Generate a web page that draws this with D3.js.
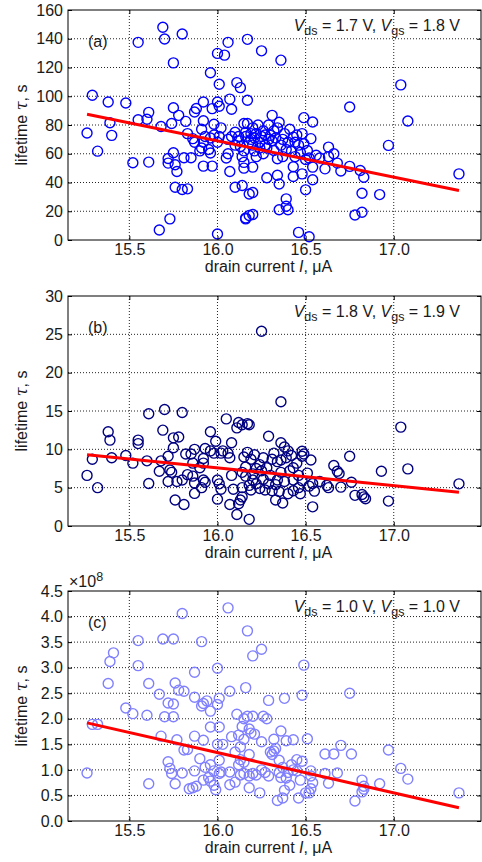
<!DOCTYPE html>
<html>
<head>
<meta charset="utf-8">
<script src="https://cdn.jsdelivr.net/npm/d3@7"></script>
<style>
  body { margin: 0; background: #fff; }
  text { font-family: "Liberation Sans", Arial, Helvetica, sans-serif; fill: #1a1a1a; }
</style>
</head>
<body>
<div id="chart"></div>
<script>
// x ticks shared by all three panels
var xTicks = [15.5, 16.0, 16.5, 17.0];

// panel (a): Vds = 1.7 V, Vgs = 1.8 V
var pointsA = [
  [15.26,74.4],[15.29,100.7],[15.32,61.8],[15.38,96],[15.39,81.6],[15.40,72.8],[15.48,95.3],[15.55,137.5],
  [15.55,83.7],[15.60,84],[15.61,88.8],[15.52,53.7],[15.61,54.2],[15.68,79],[15.69,148],[15.70,139.8],
  [15.72,56.7],[15.72,53.5],[15.73,14.7],[15.67,7],[15.74,81],[15.75,123.2],[15.75,92],[15.75,60.7],
  [15.76,52.3],[15.77,47.7],[15.76,36.7],[15.78,86.7],[15.80,143.3],[15.80,35.1],[15.83,35.6],[15.81,57.2],
  [15.85,57.2],[15.82,82.5],[15.83,74],[15.86,70.5],[15.87,89],[15.88,91.5],[15.87,68],[15.90,62],
  [15.91,64],[15.92,96],[15.92,83],[15.91,77],[15.92,68],[15.92,51.4],[15.93,72],[15.95,63],
  [15.96,60.5],[15.96,116.3],[15.97,91.4],[15.98,80.5],[15.97,51.4],[15.96,71],[15.98,73],[16.00,129.8],
  [16.01,108.4],[16.00,96],[16.01,93],[16.02,78],[16.00,4.2],[16.00,68],[16.01,72],[16.04,128.6],
  [16.06,137.5],[16.07,98],[16.08,91],[16.07,47.7],[16.10,66],[16.10,36.7],[16.11,109.5],[16.13,106],
  [16.14,37.9],[16.16,15.3],[16.17,139.6],[16.17,97.2],[16.15,81],[16.17,81],[16.16,75],[16.13,65],
  [16.15,62],[16.14,58],[16.15,54],[16.15,50],[16.18,32],[16.18,17],[16.20,78],[16.19,70],
  [16.20,66],[16.21,62],[16.22,58],[16.20,50.7],[16.20,33],[16.20,17.7],[16.16,14.7],[16.25,131.6],
  [16.26,76],[16.25,72],[16.24,68],[16.27,66],[16.26,60],[16.30,72.8],[16.28,64],[16.28,43.3],
  [16.31,86.7],[16.32,62.3],[16.34,56.5],[16.35,81.9],[16.34,78],[16.36,125.1],[16.38,74],[16.37,70],
  [16.36,66],[16.34,45],[16.35,39],[16.35,21],[16.40,68],[16.39,28.6],[16.39,23.5],[16.40,21],
  [16.43,71.6],[16.42,62],[16.44,58],[16.43,51],[16.43,44.2],[16.46,5.3],[16.48,74],[16.49,85.1],
  [16.48,46],[16.50,34.9],[16.51,62.3],[16.50,56],[16.52,2.3],[16.53,70.5],[16.54,82.1],[16.54,50.7],
  [16.54,41.9],[16.61,49.5],[16.63,64.6],[16.66,60],[16.68,53.5],[16.70,48],[16.75,92.5],[16.75,51.2],
  [16.81,48.4],[16.83,43.7],[16.82,32.5],[16.78,17.4],[16.82,19.3],[16.92,31.6],[16.97,65.8],[17.04,107.9],
  [17.08,82.8],[17.37,46],[16.12,72],[16.12,69],[16.18,68],[16.22,74],[16.23,80],[16.29,80],
  [16.31,69],[16.46,66],[16.44,68],[16.56,59],[16.58,57],[16.63,58],[16.06,60],[16.05,57],
  [16.16,72],[16.19,74],[16.21,71],[16.24,64],[16.27,73],[16.29,70],[16.32,76],[16.33,71],
  [16.39,63],[16.41,77],[16.45,73],[16.47,61],[16.49,67],[16.52,57],[16.37,58],[16.08,72],
  [16.10,75],[16.06,70]
];
var fitA = [[15.26,87.5],[17.37,34.5]];
var yTicksA = [0,20,40,60,80,100,120,140,160];

// panel (b): Vds = 1.8 V, Vgs = 1.9 V
var pointsB = [
  [15.26,6.6],[15.29,8.7],[15.32,5.0],[15.38,12.3],[15.39,11.2],[15.40,8.9],[15.48,9.2],[15.52,8.2],
  [15.55,11.2],[15.55,10.75],[15.60,8.5],[15.61,5.55],[15.61,14.65],[15.67,7.15],[15.68,8.5],[15.69,12.5],
  [15.70,15.2],[15.72,9.1],[15.73,7.3],[15.72,5.8],[15.75,11.5],[15.78,11.6],[15.75,10.2],[15.74,7.0],
  [15.77,5.8],[15.76,3.4],[15.80,14.8],[15.81,2.8],[15.82,9.4],[15.85,9.4],[15.83,6.7],[15.86,6.5],
  [15.80,6.0],[15.86,8.2],[15.87,10.0],[15.93,10.1],[15.87,5.6],[15.87,4.25],[15.92,8.8],[15.92,8.2],
  [15.90,7.6],[15.96,12.3],[15.92,6.0],[15.93,5.7],[15.91,5.0],[15.99,11.05],[15.96,9.8],[15.98,9.5],
  [16.02,9.5],[16.03,9.8],[16.06,9.5],[16.00,6.0],[16.01,5.5],[16.02,4.8],[16.05,13.97],[16.08,10.85],
  [16.07,8.9],[16.08,6.6],[16.00,3.5],[16.07,2.8],[16.11,1.5],[16.18,0.87],[16.09,4.8],[16.13,3.4],
  [16.12,13.5],[16.14,13.2],[16.17,13.35],[16.18,13.2],[16.25,25.4],[16.36,16.2],[17.04,12.9],[16.75,9.1],
  [16.93,7.15],[17.08,7.45],[17.37,5.5],[16.97,3.25],[16.66,7.9],[16.68,7.15],[16.69,6.85],[16.70,5.07],
  [16.76,5.7],[16.78,4.0],[16.82,4.1],[16.83,3.8],[16.84,3.55],[16.62,5.3],[16.63,5.0],[16.54,2.5],
  [16.29,11.7],[16.36,10.85],[16.38,10.3],[16.48,9.75],[16.49,9.4],[16.48,9.1],[16.53,8.6],[16.51,6.9],
  [16.54,5.55],[16.55,4.55],[16.58,5.8],[16.15,9.0],[16.19,8.7],[16.24,8.0],[16.16,7.7],[16.14,7.0],
  [16.16,6.5],[16.20,6.8],[16.25,7.2],[16.28,7.6],[16.31,8.7],[16.34,8.4],[16.36,8.6],[16.39,8.9],
  [16.42,9.2],[16.43,7.6],[16.36,7.0],[16.34,6.0],[16.38,5.8],[16.43,6.0],[16.48,5.9],[16.14,5.0],
  [16.19,4.7],[16.24,4.9],[16.27,4.7],[16.31,4.6],[16.35,4.5],[16.40,4.2],[16.43,4.6],[16.46,5.0],
  [16.14,3.8],[16.12,2.9],[16.20,6.0],[16.22,5.5],[16.29,5.5],[16.33,5.4],[16.11,12.8],
  [16.17,9.6],[16.21,9.3],[16.26,8.9],[16.32,9.5],[16.40,9.8],[16.45,8.2],[16.22,7.5],[16.30,6.6],
  [16.41,7.2],[16.46,6.6],[16.26,6.1],[16.18,5.3],[16.33,3.4],[16.37,3.0],[16.47,4.2],[16.52,5.2]
];
var fitB = [[15.26,9.3],[17.37,4.4]];
var yTicksB = [0,5,10,15,20,25,30];

// panel (c): Vds = 1.0 V, Vgs = 1.0 V, lifetime in units of 1e8 s
var pointsC = [
  [15.26,0.94],[15.29,1.89],[15.32,1.89],[15.41,3.29],[15.39,3.12],[15.38,2.69],[15.48,2.21],[15.52,2.10],
  [15.55,3.53],[15.55,3.04],[15.60,2.07],[15.61,2.69],[15.61,0.73],[15.67,2.48],[15.68,1.66],[15.69,3.56],
  [15.70,2.04],[15.75,2.04],[15.72,2.31],[15.75,2.29],[15.75,3.56],[15.72,1.16],[15.73,1.03],[15.74,0.93],
  [15.76,2.70],[15.77,1.59],[15.76,0.73],[15.78,2.56],[15.80,4.06],[15.81,2.54],[15.80,0.94],[15.81,1.39],
  [15.83,1.40],[15.84,0.63],[15.86,0.65],[15.88,0.68],[15.87,0.98],[15.87,2.91],[15.87,2.42],[15.87,1.66],
  [15.90,1.22],[15.91,3.51],[15.92,1.58],[15.92,2.30],[15.91,2.25],[15.94,2.35],[15.92,0.80],[15.95,0.85],
  [15.93,1.05],[15.96,1.10],[15.98,0.98],[15.96,0.78],[15.98,0.70],[15.96,1.84],[15.96,2.15],[16.00,2.28],
  [16.00,2.99],[16.01,2.40],[16.01,1.84],[16.00,1.50],[16.03,1.50],[16.01,1.19],[16.01,0.93],[15.99,0.61],
  [16.06,4.17],[16.07,2.54],[16.02,0.96],[16.07,0.96],[16.07,0.71],[16.10,0.76],[16.11,2.09],[16.12,1.68],
  [16.13,1.45],[16.13,1.20],[16.12,1.10],[16.16,2.61],[16.17,3.72],[16.20,3.23],[16.25,3.36],[16.49,3.05],
  [16.48,2.46],[16.38,2.40],[16.29,2.36],[16.75,2.50],[16.15,2.00],[16.17,2.05],[16.18,1.80],[16.20,2.05],
  [16.26,2.05],[16.28,2.00],[16.15,1.60],[16.18,1.30],[16.15,1.15],[16.15,0.93],[16.18,0.88],[16.20,0.93],
  [16.18,0.65],[16.13,0.90],[16.36,1.76],[16.39,1.57],[16.43,1.59],[16.32,1.37],[16.31,1.30],[16.33,1.42],
  [16.35,1.19],[16.37,1.05],[16.35,0.95],[16.36,0.85],[16.39,0.84],[16.41,0.70],[16.38,0.60],[16.37,0.45],
  [16.34,0.40],[16.46,0.45],[16.52,0.55],[16.51,1.61],[16.53,0.98],[16.53,0.88],[16.54,0.75],[16.53,0.63],
  [16.50,0.55],[16.48,1.17],[16.45,1.20],[16.42,1.10],[16.45,0.98],[16.61,1.31],[16.66,1.31],[16.70,1.48],
  [16.76,1.31],[16.68,0.94],[16.63,0.74],[16.61,0.93],[16.78,0.39],[16.82,0.80],[16.83,0.68],[16.83,0.62],
  [16.82,0.57],[16.92,0.73],[16.97,1.39],[17.04,1.03],[17.08,0.82],[17.37,0.55],[16.25,1.00],[16.27,0.95],
  [16.29,0.88],[16.22,0.90],[16.24,0.55],[16.25,1.55],[16.14,1.85],[16.19,1.72],[16.21,1.70],[16.08,1.65],
  [16.10,1.35],[16.43,1.00],[16.40,0.95],[16.47,0.80],[16.30,1.35],[16.32,1.60]
];
var fitC = [[15.26,1.92],[17.37,0.26]];
var yTicksC = [0,0.5,1,1.5,2,2.5,3,3.5,4,4.5];

var panels = [
  {pts: pointsA, fit: fitA, yt: yTicksA, ymax: 160, fmt: d3.format("d"), color: "#0000ff", tag: "(a)", vds: "1.7", vgs: "1.8", top: 10},
  {pts: pointsB, fit: fitB, yt: yTicksB, ymax: 30, fmt: d3.format("d"), color: "#000080", tag: "(b)", vds: "1.8", vgs: "1.9", top: 296},
  {pts: pointsC, fit: fitC, yt: yTicksC, ymax: 4.5, fmt: d3.format(".1f"), color: "#8080ff", tag: "(c)", vds: "1.0", vgs: "1.0", top: 591, exp: true}
];

var W = 482, H = 862;
var left = 68, right = 481, ph = 230;
var fs = "16px";

var svg = d3.select("#chart").append("svg")
  .attr("width", W)
  .attr("height", H);

var x = d3.scaleLinear().domain([15.152, 17.495]).range([0, right - left]);

panels.forEach(function(p) {
  var g = svg.append("g").attr("transform", "translate(" + left + "," + p.top + ")");
  var y = d3.scaleLinear().domain([0, p.ymax]).range([ph, 0]);
  var w = right - left;

  // dotted grid
  g.selectAll(".gx").data(xTicks).enter().append("line")
    .attr("x1", d => x(d)).attr("x2", d => x(d))
    .attr("y1", 0).attr("y2", ph)
    .attr("stroke", "#222").attr("stroke-width", 1).attr("stroke-dasharray", "1,2");
  g.selectAll(".gy").data(p.yt.slice(1, -1)).enter().append("line")
    .attr("x1", 0).attr("x2", w)
    .attr("y1", d => y(d)).attr("y2", d => y(d))
    .attr("stroke", "#222").attr("stroke-width", 1).attr("stroke-dasharray", "1,2");

  // points
  g.selectAll("circle").data(p.pts).enter().append("circle")
    .attr("cx", d => x(d[0]))
    .attr("cy", d => y(d[1]))
    .attr("r", 5)
    .attr("fill", "none")
    .attr("stroke", p.color)
    .attr("stroke-width", 1.4);

  // regression line
  g.append("path")
    .attr("d", d3.line().x(d => x(d[0])).y(d => y(d[1]))(p.fit))
    .attr("stroke", "#ff0000")
    .attr("stroke-width", 3)
    .attr("fill", "none");

  // axes, ticks pointing inward on all sides
  var ax = [
    g.append("g").attr("transform", "translate(0," + ph + ")").call(d3.axisBottom(x).tickValues(xTicks).tickSize(-4).tickPadding(4).tickFormat(d3.format(".1f"))),
    g.append("g").call(d3.axisTop(x).tickValues(xTicks).tickSize(-4).tickFormat("")),
    g.append("g").call(d3.axisLeft(y).tickValues(p.yt).tickSize(-4).tickPadding(5).tickFormat(p.fmt)),
    g.append("g").attr("transform", "translate(" + w + ",0)").call(d3.axisRight(y).tickValues(p.yt).tickSize(-4).tickFormat(""))
  ];
  ax.forEach(function(a) {
    a.select(".domain").remove();
    a.selectAll("line").attr("stroke", "#000");
    a.selectAll("text").style("font-size", fs).attr("fill", "#1a1a1a")
      .style("font-family", "'Liberation Sans', Arial, sans-serif");
  });

  g.append("rect")
    .attr("width", w).attr("height", ph)
    .attr("fill", "none").attr("stroke", "#000").attr("stroke-width", 1);

  // labels
  g.append("text").attr("x", 20).attr("y", 37).style("font-size", fs).text(p.tag);

  var t = g.append("text").attr("x", 392).attr("y", 21).attr("text-anchor", "end").style("font-size", fs);
  t.append("tspan").style("font-style", "italic").text("V");
  t.append("tspan").attr("dy", 4).style("font-size", "12.5px").text("ds");
  t.append("tspan").attr("dy", -4).text(" = " + p.vds + " V, ");
  t.append("tspan").style("font-style", "italic").text("V");
  t.append("tspan").attr("dy", 4).style("font-size", "12.5px").text("gs");
  t.append("tspan").attr("dy", -4).text(" = " + p.vgs + " V");

  if (p.exp) {
    var e = g.append("text").attr("x", 1).attr("y", -4).style("font-size", fs);
    e.append("tspan").text("\u00d710");
    e.append("tspan").attr("dy", -6).style("font-size", "12.5px").text("8");
  }

  var xl = g.append("text").attr("x", w / 2 - 6).attr("y", ph + 32).attr("text-anchor", "middle").style("font-size", fs);
  xl.append("tspan").text("drain current ");
  xl.append("tspan").style("font-style", "italic").text("I");
  xl.append("tspan").text(", \u03bcA");

  var yl = g.append("text")
    .attr("transform", "translate(" + (-left + 27) + "," + (ph / 2) + ") rotate(-90)")
    .attr("text-anchor", "middle").style("font-size", fs);
  yl.append("tspan").text("lifetime ");
  yl.append("tspan").style("font-style", "italic").style("font-family", "'DejaVu Serif', serif").text("\u03c4");
  yl.append("tspan").text(", s");
});
</script>
</body>
</html>
